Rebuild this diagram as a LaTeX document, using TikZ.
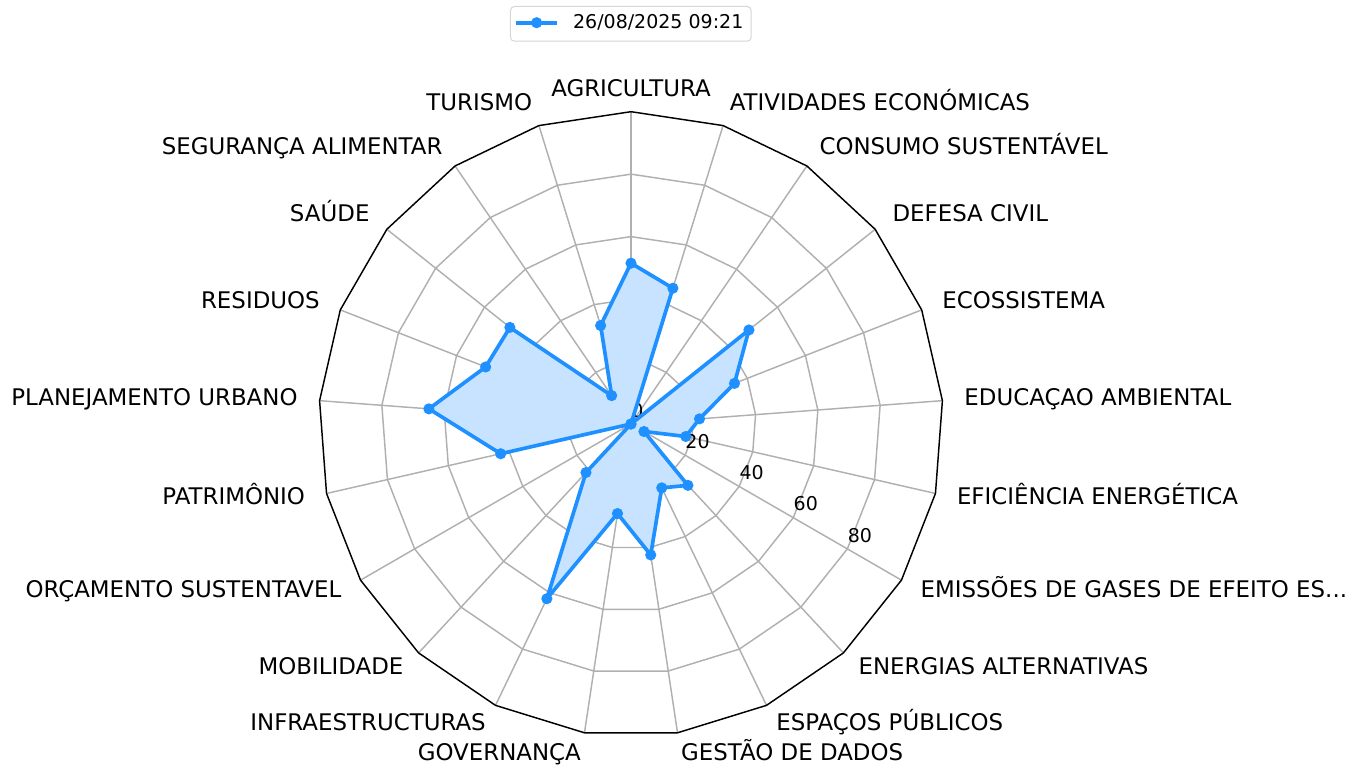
\documentclass[tikz,border=0pt]{standalone}
\usepackage{fontspec}
\setmainfont{DejaVu Sans}
\definecolor{dblue}{HTML}{1E90FF}
\definecolor{lblue}{HTML}{C7E3FF}
\definecolor{gridgray}{HTML}{B0B0B0}
\definecolor{legedge}{HTML}{D6D6D6}
\newcommand{\emisstext}{EMISSÕES DE GASES DE EFEITO ES...}
\begin{document}
\begin{tikzpicture}[x=0.5pt,y=0.5pt,
  catlabel/.style={font=\fontsize{11.45pt}{13.5pt}\selectfont, inner sep=0pt, text height=8.70pt, text depth=2.63pt},
  rlabel/.style={font=\fontsize{9.5pt}{11.5pt}\selectfont, inner sep=0pt, anchor=base west, yshift=3.45pt},
  gridline/.style={draw=gridgray, line width=0.73pt},
  frameline/.style={draw=black, line width=0.73pt},
  dataline/.style={draw=dblue, line width=1.83pt, line join=round},
  datamark/.style={circle, fill=dblue, inner sep=0pt, minimum size=5.6pt},
  legbox/.style={draw=legedge, fill=white, line width=0.5pt, rounded corners=2pt}]
\useasboundingbox (-631,-345) rectangle (734,424);
\coordinate (c) at (0,0);
% grid rings
\foreach \r in {62.46,124.92,187.38,249.84}{
  \draw[gridline] (90:\r) \foreach \i in {1,...,20}{ -- ({90-\i*360/21}:\r) } -- cycle;
}
% spokes
\foreach \i in {0,...,20}{
  \coordinate (o\i) at ({90-\i*360/21}:312.3);
  \draw[gridline] (c) -- (o\i);
}
% frame
\draw[frameline] (o0) \foreach \i in {1,...,20}{ -- (o\i) } -- cycle;
% category labels
\foreach \i/\t in {0/AGRICULTURA,1/ATIVIDADES ECONÓMICAS,2/CONSUMO SUSTENTÁVEL,3/DEFESA CIVIL,4/ECOSSISTEMA,5/EDUCAÇAO AMBIENTAL,6/EFICIÊNCIA ENERGÉTICA,7/\emisstext,8/ENERGIAS ALTERNATIVAS,9/ESPAÇOS PÚBLICOS,10/GESTÃO DE DADOS,11/GOVERNANÇA,12/INFRAESTRUCTURAS,13/MOBILIDADE,14/ORÇAMENTO SUSTENTAVEL,15/PATRIMÔNIO,16/PLANEJAMENTO URBANO,17/RESIDUOS,18/SAÚDE,19/SEGURANÇA ALIMENTAR,20/TURISMO}{
  \ifnum\i=0 \def\anc{center}\else\ifnum\i<11 \def\anc{west}\else\def\anc{east}\fi\fi
  \node[catlabel, anchor=\anc] (l\i) at ({90-\i*360/21}:334) {\t};
}
% radial labels
\foreach \k/\t in {0/0,1/20,2/40,3/60,4/80}{
  \node[rlabel] (r\k) at (-30:{62.46*\k}) {\t};
}
% data
\foreach \i/\v in {0/51.5,1/45.5,2/0,3/48.3,4/35.6,5/22,6/18,7/4.8,8/26.8,9/22.7,10/42.4,11/29,12/62.1,13/21.2,14/0,15/42.8,16/64.9,17/50,18/49.6,19/11,20/33}{
  \coordinate (p\i) at ({90-\i*360/21}:{3.123*\v});
}
\fill[lblue] (p0) \foreach \i in {1,...,20}{ -- (p\i) } -- cycle;
\draw[dataline] (p0) \foreach \i in {1,...,20}{ -- (p\i) } -- cycle;
\foreach \i in {0,...,20}{ \node[datamark] (m\i) at (p\i) {}; }
% legend
\node[legbox, minimum width=120.35pt, minimum height=17.35pt, anchor=north west] (leg) at (-121,418) {};
\coordinate (la) at (-115,401.3);
\coordinate (lb) at (-73.7,401.3);
\draw[dataline] (la) -- (lb);
\node[datamark] (lm) at (-94.35,401.3) {};
\node[font=\fontsize{9.5pt}{11.5pt}\selectfont, inner sep=0pt, anchor=base west] (lt) at (-58.3,395.7) {26/08/2025 09:21};
\end{tikzpicture}
\end{document}
